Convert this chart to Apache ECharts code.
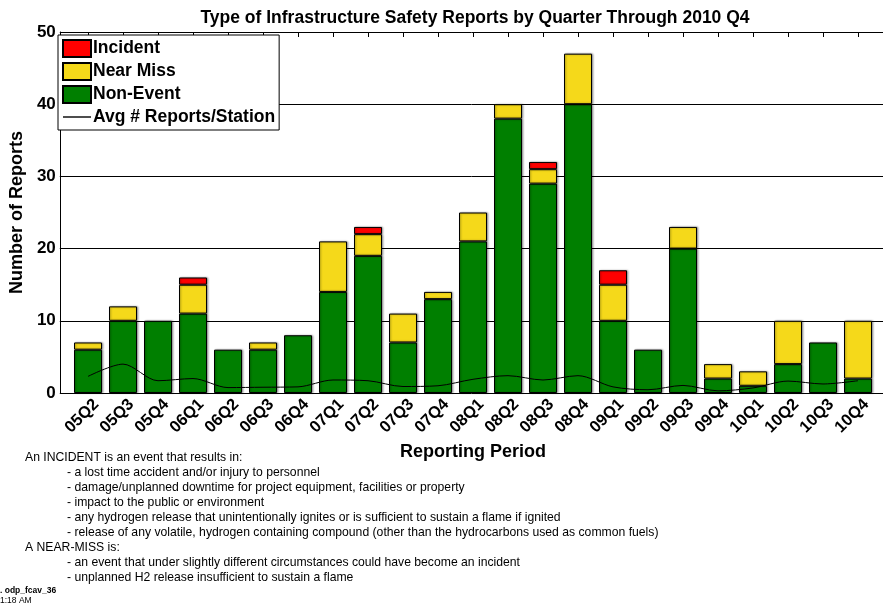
<!DOCTYPE html>
<html>
<head>
<meta charset="utf-8">
<script src="https://cdn.jsdelivr.net/npm/echarts@6/dist/echarts.min.js"></script>
<style>html,body{margin:0;padding:0;background:#fff}#c{width:883px;height:605px}</style>
</head>
<body>
<div id="c"></div>
<script>
const categories = ['05Q2','05Q3','05Q4','06Q1','06Q2','06Q3','06Q4','07Q1','07Q2','07Q3','07Q4','08Q1','08Q2','08Q3','08Q4','09Q1','09Q2','09Q3','09Q4','10Q1','10Q2','10Q3','10Q4'];
const nonEvent = [6,10,10,11,6,6,8,14,19,7,13,21,38,29,40,10,6,20,2,1,4,7,2];
const nearMiss = [1,2,null,4,null,1,null,7,3,4,1,4,2,2,7,5,null,3,2,2,6,null,8];
const incident = [null,null,null,1,null,null,null,null,1,null,null,null,null,1,null,2,null,null,null,null,null,null,null];
const avgPerStation = [2.3,4.0,1.7,2.0,0.75,0.8,0.85,1.8,1.7,0.9,1.0,1.9,2.4,1.8,2.4,0.85,0.45,1.05,0.3,0.7,1.65,1.25,1.7];
const yTicks = [0,10,20,30,40,50];
const titleText = 'Type of Infrastructure Safety Reports by Quarter Through 2010 Q4';
const noteLines = [
  'An INCIDENT is an event that results in:',
  '- a lost time accident and/or injury to personnel',
  '- damage/unplanned downtime for project equipment, facilities or property',
  '- impact to the public or environment',
  '- any hydrogen release that unintentionally ignites or is sufficient to sustain a flame if ignited',
  '- release of any volatile, hydrogen containing compound (other than the hydrocarbons used as common fuels)',
  'A NEAR-MISS is:',
  '- an event that under slightly different circumstances could have become an incident',
  '- unplanned H2 release insufficient to sustain a flame'
];
const footLines = ['. odp_fcav_36', '1:18 AM'];

const FF = '"Liberation Sans", Arial, sans-serif';
const chart = echarts.init(document.getElementById('c'), null, {renderer: 'canvas'});

const barShadow = {shadowColor: 'rgba(0,0,0,0.35)', shadowBlur: 2, shadowOffsetX: 1, shadowOffsetY: 0};

const graphics = [];
noteLines.forEach((t, i) => {
  graphics.push({
    type: 'text', left: t.startsWith('-') ? 67 : 25, top: 452 + i * 15,
    style: {text: t, font: '12.2px ' + FF, fill: '#000'}
  });
});
graphics.push({type: 'text', left: 0, top: 586, style: {text: footLines[0], font: 'bold 8.5px ' + FF, fill: '#000'}});
graphics.push({type: 'text', left: 0, top: 596, style: {text: footLines[1], font: '8.5px ' + FF, fill: '#000'}});

chart.setOption({
  animation: false,
  backgroundColor: '#fff',
  title: {
    text: titleText, left: 470, top: 4, textAlign: 'center',
    textStyle: {fontFamily: FF, fontWeight: 'bold', fontSize: 17.5, color: '#000'}
  },
  legend: {
    orient: 'vertical', left: 58, top: 35, padding: [4, 4, 4, 4],
    itemWidth: 28, itemHeight: 17, itemGap: 4,
    backgroundColor: '#fff', borderColor: '#000', borderWidth: 1,
    textStyle: {fontFamily: FF, fontWeight: 'bold', fontSize: 17.5, lineHeight: 17, color: '#000', padding: [0, 0, 0, -3]},
    data: [
      {name: 'Incident', icon: 'rect'},
      {name: 'Near Miss', icon: 'rect'},
      {name: 'Non-Event', icon: 'rect'},
      {name: 'Avg # Reports/Station', icon: 'path://M0,0 H28 V1.4 H0 Z'}
    ]
  },
  grid: [
    {left: 54, right: 0, top: 32, bottom: 212},
    {left: 70.5, width: 805, top: 32, bottom: 212}
  ],
  xAxis: [
    {gridIndex: 0, type: 'value', show: false, min: 0, max: 1},
    {gridIndex: 1, type: 'category', data: categories, position: 'bottom',
     axisLine: {show: false}, axisTick: {show: false},
     axisLabel: {rotate: 45, align: 'center', verticalAlign: 'bottom', margin: 29,
                 fontFamily: FF, fontWeight: 'bold', fontSize: 16.5, color: '#000', interval: 0},
     name: 'Reporting Period', nameLocation: 'middle', nameGap: 45,
     nameTextStyle: {fontFamily: FF, fontWeight: 'bold', fontSize: 18, color: '#000'}},
    {gridIndex: 1, type: 'category', data: categories, position: 'top',
     axisLine: {show: false}, axisLabel: {show: false},
     axisTick: {show: true, inside: true, length: 5, interval: 0, alignWithLabel: true, lineStyle: {color: '#000', width: 1}}}
  ],
  yAxis: [
    {gridIndex: 0, type: 'value', min: 0, max: 50, interval: 10,
     axisLine: {show: true, lineStyle: {color: '#000', width: 1}},
     axisTick: {show: false},
     axisLabel: {margin: 4, fontFamily: FF, fontWeight: 'bold', fontSize: 17, color: '#000',
                 formatter: v => yTicks.includes(v) ? String(v) : ''},
     splitLine: {show: true, lineStyle: {color: '#000', width: 1}},
     name: 'Number of Reports', nameLocation: 'middle', nameGap: 27,
     nameTextStyle: {fontFamily: FF, fontWeight: 'bold', fontSize: 18, color: '#000'}},
    {gridIndex: 1, type: 'value', min: 0, max: 50, interval: 10, show: false}
  ],
  series: [
    {name: 'Non-Event', type: 'bar', stack: 'r', xAxisIndex: 1, yAxisIndex: 1, barWidth: 28,
     data: nonEvent, itemStyle: Object.assign({color: '#007F00', borderColor: '#000', borderWidth: 1}, barShadow)},
    {name: 'Near Miss', type: 'bar', stack: 'r', xAxisIndex: 1, yAxisIndex: 1, barWidth: 28,
     data: nearMiss, itemStyle: Object.assign({color: '#F5D91A', borderColor: '#000', borderWidth: 1}, barShadow)},
    {name: 'Incident', type: 'bar', stack: 'r', xAxisIndex: 1, yAxisIndex: 1, barWidth: 28,
     data: incident, itemStyle: Object.assign({color: '#FF0000', borderColor: '#000', borderWidth: 1}, barShadow)},
    {name: 'Avg # Reports/Station', type: 'line', xAxisIndex: 1, yAxisIndex: 1,
     data: avgPerStation, symbol: 'none', smooth: 0.3, z: 5,
     lineStyle: {color: '#000', width: 1}, itemStyle: {color: '#000'}}
  ],
  graphic: graphics
});
</script>
</body>
</html>
